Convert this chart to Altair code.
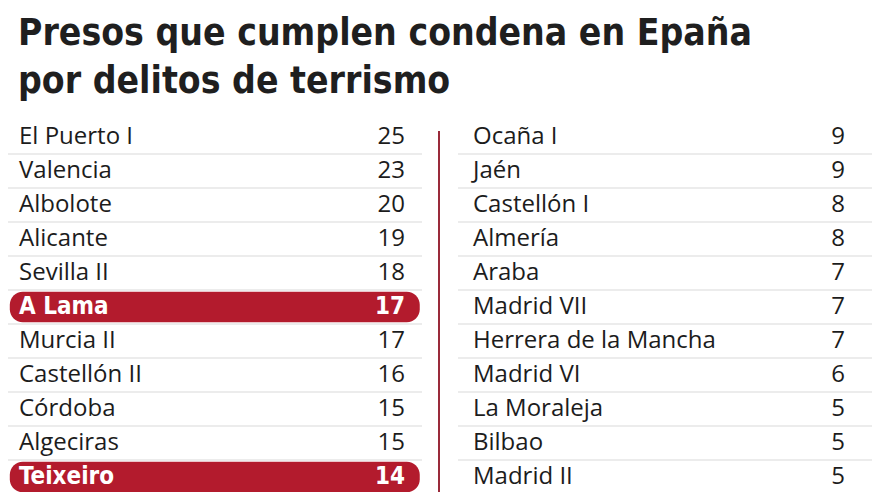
import altair as alt
import pandas as pd

# ---- data ----
left_names = ["El Puerto I", "Valencia", "Albolote", "Alicante", "Sevilla II", "A Lama",
              "Murcia II", "Castellón II", "Córdoba", "Algeciras", "Teixeiro"]
left_values = [25, 23, 20, 19, 18, 17, 17, 16, 15, 15, 14]
right_names = ["Ocaña I", "Jaén", "Castellón I", "Almería", "Araba", "Madrid VII",
               "Herrera de la Mancha", "Madrid VI", "La Moraleja", "Bilbao", "Madrid II"]
right_values = [9, 9, 8, 8, 7, 7, 7, 6, 5, 5, 5]
highlighted = ["A Lama", "Teixeiro"]
title_lines = ["Presos que cumplen condena en Epaña", "por delitos de terrismo"]

rows = []
for col, (names, vals) in enumerate([(left_names, left_values), (right_names, right_values)]):
    for i, (n, v) in enumerate(zip(names, vals)):
        rows.append({"name": n, "value": v, "col": col, "row": i, "hl": n in highlighted})
df = pd.DataFrame(rows)

# ---- styling ----
TOP = 110
TOTAL_H = 484
W, H = 864, TOTAL_H - TOP
RED = "#b31b2d"
LINE_RED = "#9a2a3a"
GRID = "#d9d9d9"
TXT = "#1c1c1c"
BODY_FONT = "Open Sans"
BOLD_FONT = "'DejaVu Sans Condensed', Roboto, sans-serif"

yscale = alt.Scale(domain=[0, 10], range=[129 - TOP, 469 - TOP], zero=False, nice=False)
noaxis = None

base = alt.Chart(df)

seps = base.mark_rule(color=GRID, strokeWidth=1).transform_calculate(
    sep="datum.row + 0.5", xe="datum.col + 0.92"
).encode(
    x=alt.X("col:Q", scale=alt.Scale(domain=[0, 1], range=[0, 450]), axis=noaxis),
    x2="xe:Q",
    y=alt.Y("sep:Q", scale=yscale, axis=noaxis),
)

hl = base.transform_filter("datum.hl").transform_calculate(
    y0="datum.row - 0.45", y1="datum.row + 0.45", xs="datum.col + 0.004", xe="datum.col + 0.915"
).mark_rect(color=RED, cornerRadius=13).encode(
    x=alt.X("xs:Q", scale=alt.Scale(domain=[0, 1], range=[0, 450]), axis=noaxis),
    x2="xe:Q",
    y=alt.Y("y0:Q", scale=yscale, axis=noaxis),
    y2="y1:Q",
)

labels = base.transform_filter("!datum.hl").mark_text(
    align="left", baseline="middle", font=BODY_FONT, fontSize=24, color=TXT
).encode(
    x=alt.X("col:Q", scale=alt.Scale(domain=[0, 1], range=[11, 465]), axis=noaxis),
    y=alt.Y("row:Q", scale=yscale, axis=noaxis),
    text="name:N",
)
labels_hl = base.transform_filter("datum.hl").mark_text(
    align="left", baseline="middle", font=BOLD_FONT, fontWeight="bold", fontSize=24, color="white"
).encode(
    x=alt.X("col:Q", scale=alt.Scale(domain=[0, 1], range=[11, 465]), axis=noaxis),
    y=alt.Y("row:Q", scale=yscale, axis=noaxis),
    text="name:N",
)
nums = base.transform_filter("!datum.hl").mark_text(
    align="right", baseline="middle", font=BODY_FONT, fontSize=24, color=TXT
).encode(
    x=alt.X("col:Q", scale=alt.Scale(domain=[0, 1], range=[397, 837]), axis=noaxis),
    y=alt.Y("row:Q", scale=yscale, axis=noaxis),
    text="value:Q",
)
nums_hl = base.transform_filter("datum.hl").mark_text(
    align="right", baseline="middle", font=BOLD_FONT, fontWeight="bold", fontSize=24, color="white"
).encode(
    x=alt.X("col:Q", scale=alt.Scale(domain=[0, 1], range=[397, 837]), axis=noaxis),
    y=alt.Y("row:Q", scale=yscale, axis=noaxis),
    text="value:Q",
)

divider = alt.Chart(pd.DataFrame({"d": [0]})).mark_rule(color=LINE_RED, strokeWidth=2).encode(
    x=alt.value(431), y=alt.value(131 - 8 - TOP), y2=alt.value(H)
)

chart = alt.layer(seps, hl, labels, labels_hl, nums, nums_hl, divider).resolve_scale(
    x="independent"
).properties(
    width=W, height=H,
    title=alt.TitleParams(
        text=title_lines, anchor="start", frame="group", fontSize=37, font=BOLD_FONT,
        fontWeight="bold", color="#1f1f1f", lineHeight=48, offset=17, dx=10,
    ),
    autosize=alt.AutoSizeParams(type="none"),
    padding={"left": 0, "top": TOP, "right": 0, "bottom": 0},
).configure_view(stroke=None)

chart.save("out.html", embed_options={"renderer": "svg", "actions": False})
